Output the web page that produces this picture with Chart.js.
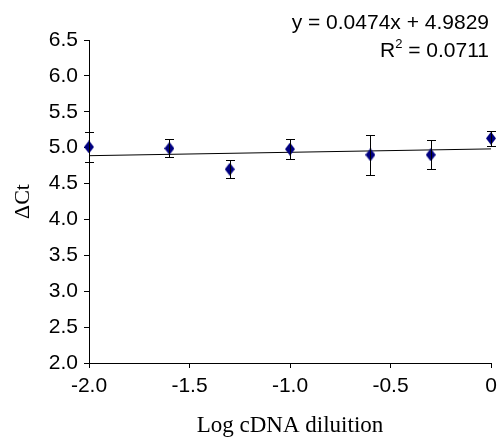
<!DOCTYPE html>
<html>
<head>
<meta charset="utf-8">
<script src="https://cdn.jsdelivr.net/npm/chart.js@4"></script>
<style>
  html, body { margin: 0; padding: 0; background: #fff; }
  #wrap { width: 497px; height: 440px; }
</style>
</head>
<body>
<div id="wrap"><canvas id="chart"></canvas></div>
<script>
// Values
const dilution = [-2.0, -1.6, -1.3, -1.0, -0.6, -0.3, 0];
const deltaCt = [5.01, 4.99, 4.70, 4.98, 4.90, 4.90, 5.13];
const errorSd = [0.21, 0.125, 0.125, 0.14, 0.28, 0.20, 0.10];

// Linear trendline as printed on the chart
const slope = 0.0474;
const intercept = 4.9829;
const trendX = [-2.0, 0];
const equationLines = ['y = 0.0474x + 4.9829', 'R', '2', ' = 0.0711'];

const SANS = '"Liberation Sans", Arial, sans-serif';
const SERIF = '"Liberation Serif", "Times New Roman", serif';
const NAVY = '#000080';

// Tall diamond marker like the original spreadsheet chart
function makeDiamond(w, h) {
    const cv = document.createElement('canvas');
    cv.width = w;
    cv.height = h;
    const c = cv.getContext('2d');
    c.fillStyle = NAVY;
    c.beginPath();
    c.moveTo(w / 2, 0);
    c.lineTo(w, h / 2);
    c.lineTo(w / 2, h);
    c.lineTo(0, h / 2);
    c.closePath();
    c.fill();
    return cv;
}

// Error bars drawn from the data through the chart scales
const errorBars = {
    id: 'errorBars',
    afterDatasetsDraw(chart) {
        const {ctx, scales: {x, y}} = chart;
        ctx.save();
        ctx.strokeStyle = '#000';
        ctx.lineWidth = 1;
        dilution.forEach((d, i) => {
            const px = Math.round(x.getPixelForValue(d)) + 0.5;
            const top = Math.round(y.getPixelForValue(deltaCt[i] + errorSd[i])) + 0.5;
            const bot = Math.round(y.getPixelForValue(deltaCt[i] - errorSd[i])) + 0.5;
            ctx.beginPath();
            ctx.moveTo(px, top);
            ctx.lineTo(px, bot);
            ctx.moveTo(px - 4.5, top);
            ctx.lineTo(px + 4.5, top);
            ctx.moveTo(px - 4.5, bot);
            ctx.lineTo(px + 4.5, bot);
            ctx.stroke();
        });
        ctx.restore();
    },
};

// Trendline equation in the top right corner
const equationLabel = {
    id: 'equationLabel',
    afterDraw(chart) {
        const c = chart.ctx;
        const right = 489;
        c.save();
        c.fillStyle = '#000';
        c.textBaseline = 'middle';
        c.textAlign = 'right';
        c.font = '21px ' + SANS;
        c.fillText(equationLines[0], right, 23);
        const tail = equationLines[3];
        c.fillText(tail, right, 51);
        const tailW = c.measureText(tail).width;
        c.font = '13px ' + SANS;
        c.fillText(equationLines[2], right - tailW, 44);
        const supW = c.measureText(equationLines[2]).width;
        c.font = '21px ' + SANS;
        c.fillText(equationLines[1], right - tailW - supW, 51);
        c.restore();
    },
};

new Chart(document.getElementById('chart'), {
    type: 'scatter',
    data: {
        datasets: [
            {
                label: 'ΔCt',
                data: dilution.map((d, i) => ({x: d, y: deltaCt[i]})),
                backgroundColor: NAVY,
                borderColor: NAVY,
                pointStyle: makeDiamond(10, 13),
                pointRadius: 6,
                pointHoverRadius: 6,
                borderWidth: 0,
                clip: false,
                order: 1,
            },
            {
                label: 'Linear',
                type: 'line',
                data: trendX.map(v => ({x: v, y: slope * v + intercept})),
                borderColor: '#000',
                borderWidth: 1,
                pointRadius: 0,
                fill: false,
                order: 2,
            },
        ],
    },
    options: {
        responsive: true,
        maintainAspectRatio: false,
        animation: false,
        events: [],
        layout: {padding: {top: 40, right: 6, left: 0, bottom: 0}},
        plugins: {
            legend: {display: false},
            tooltip: {enabled: false},
        },
        scales: {
            x: {
                type: 'linear',
                min: -2,
                max: 0,
                afterFit(scale) {
                    scale.height = 77;
                    scale.paddingRight = 0;
                    scale.paddingLeft = 0;
                },
                border: {display: true, color: '#000', width: 1},
                grid: {display: true, drawOnChartArea: false, drawTicks: true, tickLength: 5, color: '#000'},
                ticks: {
                    stepSize: 0.5,
                    color: '#000',
                    padding: 6,
                    maxRotation: 0,
                    font: {family: SANS, size: 21},
                    callback: v => (v === 0 ? '0' : v.toFixed(1)),
                },
                title: {
                    display: true,
                    text: 'Log cDNA diluition',
                    color: '#000',
                    font: {family: SERIF, size: 23},
                    padding: {top: 0, bottom: 0},
                },
            },
            y: {
                type: 'linear',
                min: 2,
                max: 6.5,
                afterFit(scale) { scale.width = 89; },
                border: {display: true, color: '#000', width: 1},
                grid: {display: true, drawOnChartArea: false, drawTicks: true, tickLength: 5, color: '#000'},
                ticks: {
                    stepSize: 0.5,
                    color: '#000',
                    padding: 6,
                    font: {family: SANS, size: 21},
                    callback: v => v.toFixed(1),
                },
                title: {
                    display: true,
                    text: 'ΔCt',
                    color: '#000',
                    font: {family: SERIF, size: 22},
                    padding: {top: 10, bottom: 0},
                },
            },
        },
    },
    plugins: [errorBars, equationLabel],
});
</script>
</body>
</html>
